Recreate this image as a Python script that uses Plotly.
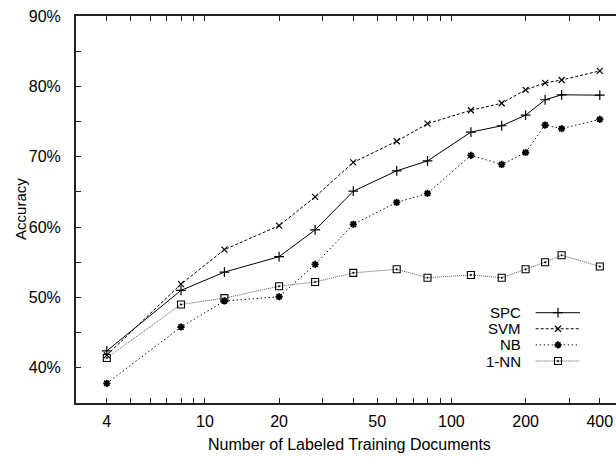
import math
import plotly.graph_objects as go

# Number of labeled training documents (log-scaled x axis)
docs = [4, 8, 12, 20, 28, 40, 60, 80, 120, 160, 200, 240, 280, 400]

# Classification accuracy (%) per method
spc = [42.4, 51.0, 53.6, 55.8, 59.6, 65.1, 68.0, 69.4, 73.5, 74.4, 75.9, 78.1, 78.8, 78.75]
svm = [41.8, 51.9, 56.8, 60.2, 64.3, 69.2, 72.2, 74.7, 76.6, 77.6, 79.5, 80.5, 80.9, 82.2]
nb = [37.8, 45.8, 49.5, 50.1, 54.7, 60.4, 63.5, 64.8, 70.2, 68.9, 70.6, 74.5, 74.0, 75.3]
knn = [41.4, 49.0, 49.9, 51.6, 52.2, 53.5, 54.0, 52.8, 53.2, 52.8, 54.0, 55.0, 56.0, 54.4]

method_names = ["SPC", "SVM", "NB", "1-NN"]

# Tick positions and labels
x_tickvals = [4, 5, 6, 7, 8, 9, 10, 20, 30, 40, 50, 60, 70, 80, 90, 100, 200, 300, 400]
x_labeled = [4, 10, 20, 50, 100, 200, 400]
y_tickvals = [35, 40, 45, 50, 55, 60, 65, 70, 75, 80, 85, 90]
y_labeled = [40, 50, 60, 70, 80, 90]

FONT = "Liberation Sans, Arial, Helvetica, sans-serif"

styles = [
    dict(color="#000000", dash="solid", symbol="cross-thin-open", size=7, lw=1.2),
    dict(color="#000000", dash="3px,2px", symbol="x-thin-open", size=6, lw=1.2),
    dict(color="#111111", dash="1.5px,2.5px", symbol="asterisk-open", size=6, lw=1.8),
    dict(color="#555555", dash="1px,1px", symbol="square-open-dot", size=7, lw=1.1),
]

fig = go.Figure()
for name, ys, st in zip(method_names, [spc, svm, nb, knn], styles):
    fig.add_trace(go.Scatter(
        x=docs, y=ys, name=name, mode="lines+markers",
        line=dict(color=st["color"], width=1, dash=st["dash"]),
        marker=dict(symbol=st["symbol"], size=st["size"],
                    color="#000000", line=dict(color="#000000", width=st["lw"])),
        showlegend=False,
    ))

# Key drawn in the style of a gnuplot key: label on the left, sample on the right
key_rows = [0.2333, 0.1918, 0.1501, 0.1085]
key_x0, key_x1, key_xm = 0.8513, 0.9333, 0.8926
for name, st, ky in zip(method_names, styles, key_rows):
    fig.add_trace(go.Scatter(
        x=[key_x0, key_x1], y=[ky, ky], mode="lines",
        line=dict(color=st["color"], width=1, dash=st["dash"]),
        xaxis="x2", yaxis="y2", showlegend=False, hoverinfo="skip",
    ))
    fig.add_trace(go.Scatter(
        x=[key_xm], y=[ky], mode="markers",
        marker=dict(symbol=st["symbol"], size=st["size"],
                    color="#000000", line=dict(color="#000000", width=st["lw"])),
        xaxis="x2", yaxis="y2", showlegend=False, hoverinfo="skip",
    ))
    fig.add_annotation(
        x=0.8283, y=ky, xref="paper", yref="paper", text=name,
        showarrow=False, xanchor="right", yanchor="middle",
        font=dict(family=FONT, size=15, color="#000000"),
    )

axis_line = dict(showline=True, linecolor="#222222", linewidth=2,
                 showgrid=False, zeroline=False, ticks="inside",
                 ticklen=5, tickwidth=1, tickcolor="#222222",
                 tickfont=dict(family=FONT, size=16, color="#000000"))

fig.update_layout(
    width=616, height=457,
    margin=dict(l=76, r=0, t=16, b=54),
    paper_bgcolor="white", plot_bgcolor="white",
    showlegend=False,
    xaxis=dict(
        type="log", range=[math.log10(3), 2.6678],
        tickmode="array", tickvals=x_tickvals,
        ticktext=[str(v) if v in x_labeled else "" for v in x_tickvals],
        mirror="ticks", ticklabelstandoff=3, **axis_line,
    ),
    yaxis=dict(
        range=[35, 90],
        tickmode="array", tickvals=y_tickvals,
        ticktext=[f"{v}%" if v in y_labeled else "" for v in y_tickvals],
        ticklabelstandoff=10, **axis_line,
    ),
    xaxis2=dict(overlaying="x", range=[0, 1], visible=False, fixedrange=True),
    yaxis2=dict(overlaying="y", range=[0, 1], visible=False, fixedrange=True),
)

# Axis titles
fig.add_annotation(
    x=0.507, y=-0.106, xref="paper", yref="paper", xanchor="center", yanchor="middle",
    text="Number of Labeled Training Documents", showarrow=False,
    font=dict(family=FONT, size=16, color="#000000"),
)
fig.add_annotation(
    x=-0.104, y=0.501, xref="paper", yref="paper", xanchor="center", yanchor="middle",
    text="Accuracy", textangle=-90, showarrow=False,
    font=dict(family=FONT, size=15, color="#000000"),
)

fig.write_html("out.html")
